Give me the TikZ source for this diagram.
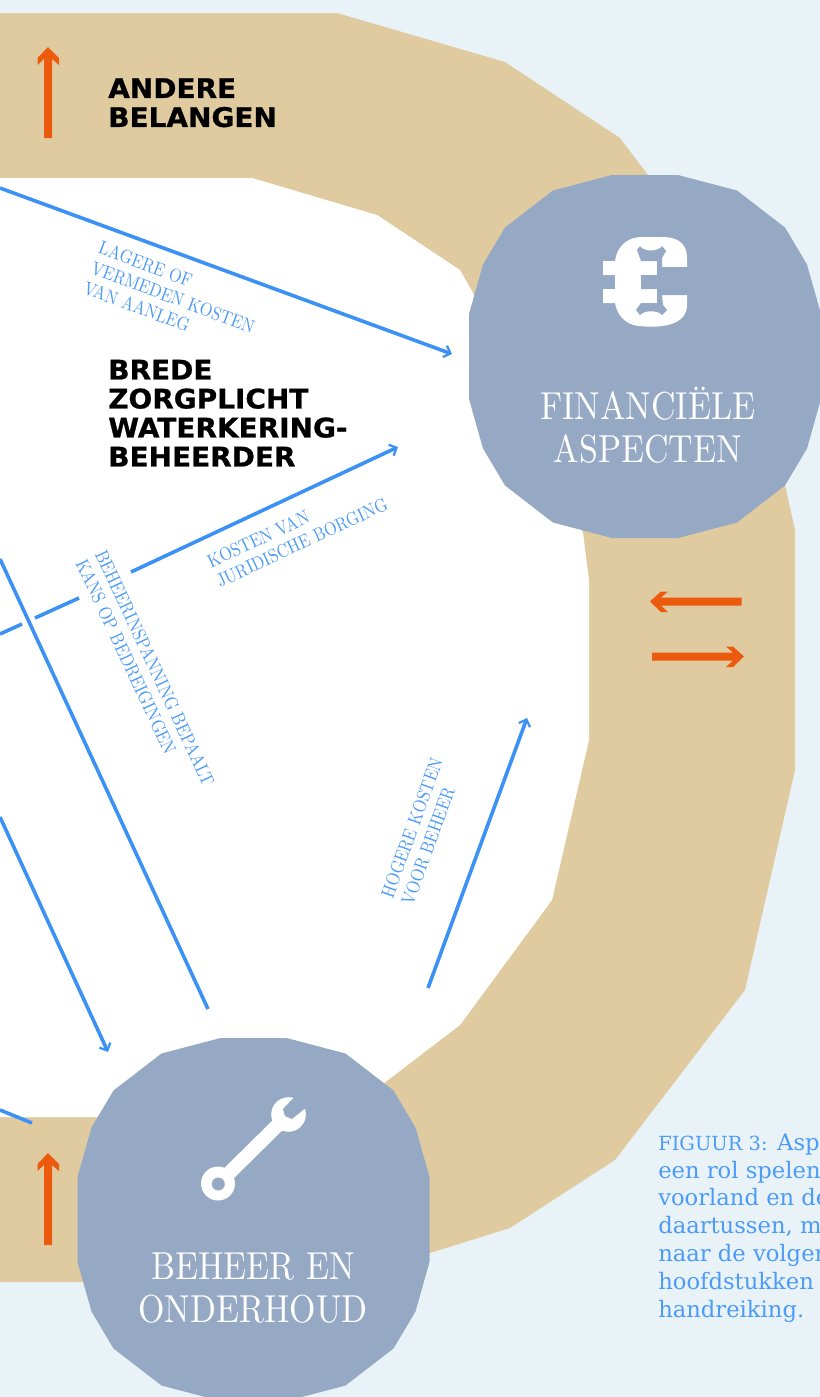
\documentclass[tikz,border=0pt]{standalone}
\usepackage{fontspec}
\usetikzlibrary{arrows.meta}
\newfontfamily\lmc{lmroman10-regular.otf}[FakeStretch=0.87]
\newfontfamily\ttlf{DejaVu Sans}[FakeStretch=1.035,BoldFeatures={FakeBold=0.8}]
\newfontfamily\capf{DejaVu Serif}
\definecolor{bgc}{HTML}{E9F3F7}
\definecolor{sand}{HTML}{E0CBA0}
\definecolor{nodeblue}{HTML}{95A8C4}
\definecolor{lineblue}{HTML}{3C91F5}
\definecolor{labelblue}{HTML}{4C9BF7}
\definecolor{orangec}{HTML}{EC5A0D}
\tikzset{
  x=.75pt,y=-.75pt,
  blob/.pic={\fill[nodeblue] (-33,-181.5)--(33,-181.5)--(92,-166)--(140,-129)--(162,-92)--(176,-42.5)--(176,42.5)--(162,92)--(140,129)--(92,166)--(33,181.5)--(-33,181.5)--(-92,166)--(-140,129)--(-162,92)--(-176,42.5)--(-176,-42.5)--(-162,-92)--(-140,-129)--(-92,-166)--cycle;},
  flow/.style={draw=lineblue,line width=2.7pt},
  flowtip/.style={flow,-{Straight Barb[length=4.5pt,width=9pt,line width=1.7pt]}},
  pushshape/.style={fill=orangec},
  titletext/.style={inner sep=0pt,anchor=north west,align=left,text=black,font={\ttlf\bfseries\fontsize{20.25}{21.75}\selectfont}},
  bigtext/.style={inner sep=0pt,align=center,text=white,font={\lmc\fontsize{29.25}{32.25}\selectfont}},
  smalltext/.style={inner sep=0pt,align=left,anchor=north west,text=labelblue,font={\lmc\fontsize{14.1}{16.1}\selectfont}},
  captext/.style={inner sep=0pt,align=left,anchor=north west,text=labelblue,font={\capf\fontsize{17}{20.85}\selectfont}},
}
\begin{document}
\begin{tikzpicture}
\useasboundingbox (0,0) rectangle (820,1397);
\fill[bgc] (0,0) rectangle (820,1397);
\fill[sand] (0,13)--(337,13)--(505,62)--(620,138)--(648,175)--(785,485)--(795,530)--(795,770)--(745,990)--(615,1160)--(510,1228)--(430,1253)--(300,1282)--(0,1282)--cycle;
\fill[white] (0,178)--(252,178)--(377,215)--(460,270)--(473,293)--(583,533)--(589,580)--(589,740)--(552,900)--(460,1025)--(375,1090)--(300,1117)--(0,1117)--cycle;

% connector ends
\coordinate (a1s) at (0,188); \coordinate (a1e) at (452,354);
\coordinate (a2s) at (131,572); \coordinate (a2e) at (398,447);
\coordinate (a2bs) at (79,598); \coordinate (a2be) at (35,618);
\coordinate (a2cs) at (22,624); \coordinate (a2ce) at (0,634);
\coordinate (a3s) at (0,559); \coordinate (a3e) at (208,1009);
\coordinate (a4s) at (0,817); \coordinate (a4e) at (108,1052);
\coordinate (a5s) at (0,1110); \coordinate (a5e) at (32,1123);
\coordinate (a6s) at (428,988); \coordinate (a6e) at (527,718);
\draw[flowtip] (a1s) -- (a1e);
\draw[flowtip] (a2s) -- (a2e);
\draw[flow] (a2bs) -- (a2be);
\draw[flow] (a2cs) -- (a2ce);
\draw[flow] (a3s) -- (a3e);
\draw[flowtip] (a4s) -- (a4e);
\draw[flow] (a5s) -- (a5e);
\draw[flowtip] (a6s) -- (a6e);

% orange arrows
\fill[pushshape] (48,47)--(59,58)--(59,65)--(52,59)--(52,138)--(44,138)--(44,59)--(37.5,65)--(37.5,58)--cycle;
\fill[pushshape] (48,1153)--(59,1164)--(59,1171)--(52,1165)--(52,1245)--(44,1245)--(44,1165)--(37.5,1171)--(37.5,1164)--cycle;
\fill[pushshape] (650,601.5)--(661,591.5)--(668,591.5)--(661,597.5)--(741.5,597.5)--(741.5,605.5)--(661,605.5)--(668,612)--(661,612)--cycle;
\fill[pushshape] (744,656.5)--(733,646.5)--(726,646.5)--(733,652.5)--(652,652.5)--(652,660.5)--(733,660.5)--(726,667)--(733,667)--cycle;

% blobs
\pic at (645,356.5) {blob};
\pic at (253.5,1219.5) {blob};

% euro icon
\fill[white] (603,261)--(615,261) .. controls (617,247) and (626,238) .. (640,237) -- (665,237) .. controls (680,238) and (687,245) .. (687,258) -- (687,307) .. controls (686,316) and (680,322) .. (668,325) .. controls (660,327) and (648,327) .. (638,326) .. controls (625,324) and (617,315) .. (615,303) -- (603,303) -- (603,289) -- (615,289) -- (615,275) -- (603,275) -- cycle;
\fill[nodeblue] (689,267)--(662,267)--(662,258)--(666,251)--(662,246) .. controls (658,252) and (644,252) .. (640,246) -- (637,250)--(641,261)--(657,261)--(657,275)--(641,275)--(641,289)--(657,289)--(657,303)--(641,303)--(636,310)--(640,315) .. controls (644,310) and (658,310) .. (662,315) -- (667,310)--(663,305)--(662,295)--(689,295)--cycle;

% wrench icon
\draw[white,line width=10.5pt] (218,1184) -- (288,1115);
\fill[white] (218,1183.5) circle[radius=17];
\fill[nodeblue] (218.3,1184) circle[radius=6.5];
\fill[white] (288.5,1114.5) circle[radius=17.3];
\fill[nodeblue] (294.5,1097)--(283,1109)--(285,1116)--(292,1119)--(305.5,1108)--(320,1095)--(305,1085)--cycle;

% text
\node[titletext] (t1) at (108,78) {ANDERE\\BELANGEN};
\node[titletext] (t2) at (108,359.5) {BREDE\\ZORGPLICHT\\WATERKERING-\\BEHEERDER};
\node[bigtext,anchor=north] (n1) at (648,387) {FINANCIËLE\\ASPECTEN};
\node[bigtext,anchor=north] (n2) at (253,1253) {BEHEER EN\\ONDERHOUD};
\node[smalltext,rotate=-20.5] (l1) at (102,240) {LAGERE OF\\VERMEDEN KOSTEN\\VAN AANLEG};
\node[smalltext,rotate=25] (l2) at (205,556) {KOSTEN VAN\\JURIDISCHE BORGING};
\node[smalltext,rotate=-65] (l3) at (107,548) {BEHEERINSPANNING BEPAALT\\KANS OP BEDREIGINGEN};
\node[smalltext,rotate=70] (l4) at (380,895) {HOGERE KOSTEN\\VOOR BEHEER};
\node[captext] (c) at (658,1133.5) {{\fontsize{14.6}{20.85}\selectfont FIGUUR 3:} Aspe\\een rol spelen\\voorland en de\\daartussen, m\\naar de volgen\\hoofdstukken\\handreiking.};
\end{tikzpicture}
\end{document}
